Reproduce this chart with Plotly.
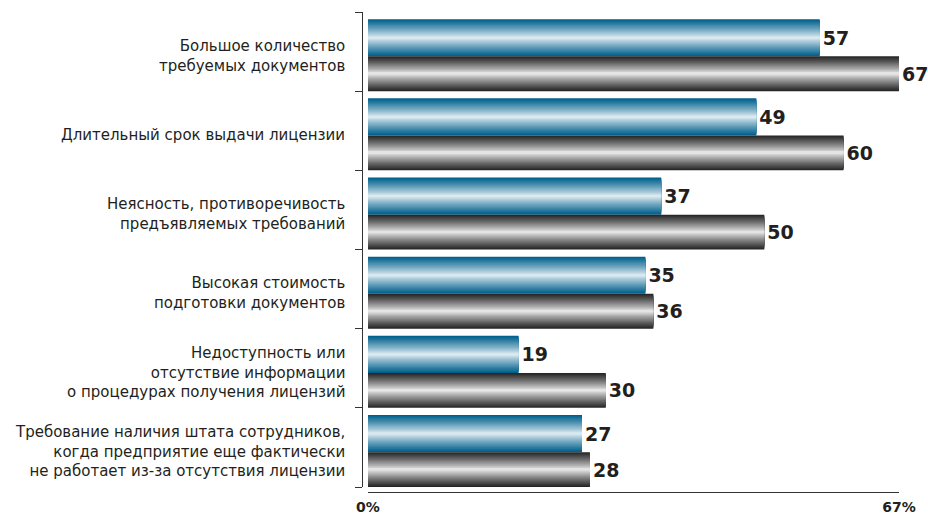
import plotly.graph_objects as go

categories = [
    "Большое количество<br>требуемых документов",
    "Длительный срок выдачи лицензии",
    "Неясность, противоречивость<br>предъявляемых требований",
    "Высокая стоимость<br>подготовки документов",
    "Недоступность или<br>отсутствие информации<br>о процедурах получения лицензий",
    "Требование наличия штата сотрудников,<br>когда предприятие еще фактически<br>не работает из-за отсутствия лицензии",
]
series_a = [57, 49, 37, 35, 19, 27]
series_b = [67, 60, 50, 36, 30, 28]
x_ticks = [0, 67]
x_ticktext = ["0%", "67%"]

W, H = 928, 518
FONT = "DejaVu Sans"
TXT = "#231f20"

positions = list(range(len(categories)))

def lerp(c1, c2, t):
    return "rgb(%d,%d,%d)" % tuple(round(a + (b - a) * t) for a, b in zip(c1, c2))

def gradient_bars(fig, values, offset, width, dark, light, n=18):
    center = offset + width / 2
    for k in range(n):
        frac = 1 - k / n
        color = lerp(light, dark, frac ** 0.85)
        w = width * frac
        first = k == 0
        fig.add_trace(go.Bar(
            x=values, y=positions, orientation="h",
            width=w, offset=center - w / 2,
            marker=dict(color=color, line=dict(width=0)),
            text=[str(v) for v in values] if first else None,
            textposition="outside" if first else "none",
            textfont=dict(family=FONT, size=19, color=TXT, weight="bold"),
            cliponaxis=False, constraintext="none",
            hoverinfo="skip", showlegend=False,
        ))

fig = go.Figure()
gradient_bars(fig, series_a, -0.41, 0.47, (0, 96, 140), (240, 246, 250))
gradient_bars(fig, series_b, 0.06, 0.44, (38, 38, 38), (246, 246, 246))

for i, cat in enumerate(categories):
    fig.add_annotation(
        x=347 / W, xref="paper", xanchor="right",
        y=i + 0.05, yref="y", yanchor="middle",
        text=cat, showarrow=False, align="right",
        font=dict(family=FONT, size=15, color=TXT),
    )

fig.update_layout(
    width=W, height=H,
    margin=dict(l=0, r=0, t=0, b=0),
    paper_bgcolor="white", plot_bgcolor="white",
    barmode="overlay",
    xaxis=dict(
        domain=[368 / W, 899 / W], range=[0, 67],
        anchor="free", position=1 - 492 / H, automargin=False,
        tickmode="array", tickvals=x_ticks, ticktext=x_ticktext,
        ticks="inside", ticklen=7, tickcolor="#333", tickwidth=1.2,
        ticklabelstandoff=2,
        showline=True, linecolor="#333", linewidth=1.2,
        showgrid=False, zeroline=False,
        tickfont=dict(family=FONT, size=14, color=TXT, weight="bold"),
    ),
    yaxis=dict(
        domain=[1 - 487 / H, 1 - 12 / H], range=[5.5, -0.5],
        anchor="free", position=362 / W, automargin=False,
        tickmode="array", tickvals=[p - 0.5 for p in positions] + [len(positions) - 0.5],
        ticks="outside", ticklen=7, tickcolor="#333", tickwidth=1.2,
        showticklabels=False,
        showline=True, linecolor="#333", linewidth=1.2,
        showgrid=False, zeroline=False,
    ),
)

fig.write_html("out.html")
